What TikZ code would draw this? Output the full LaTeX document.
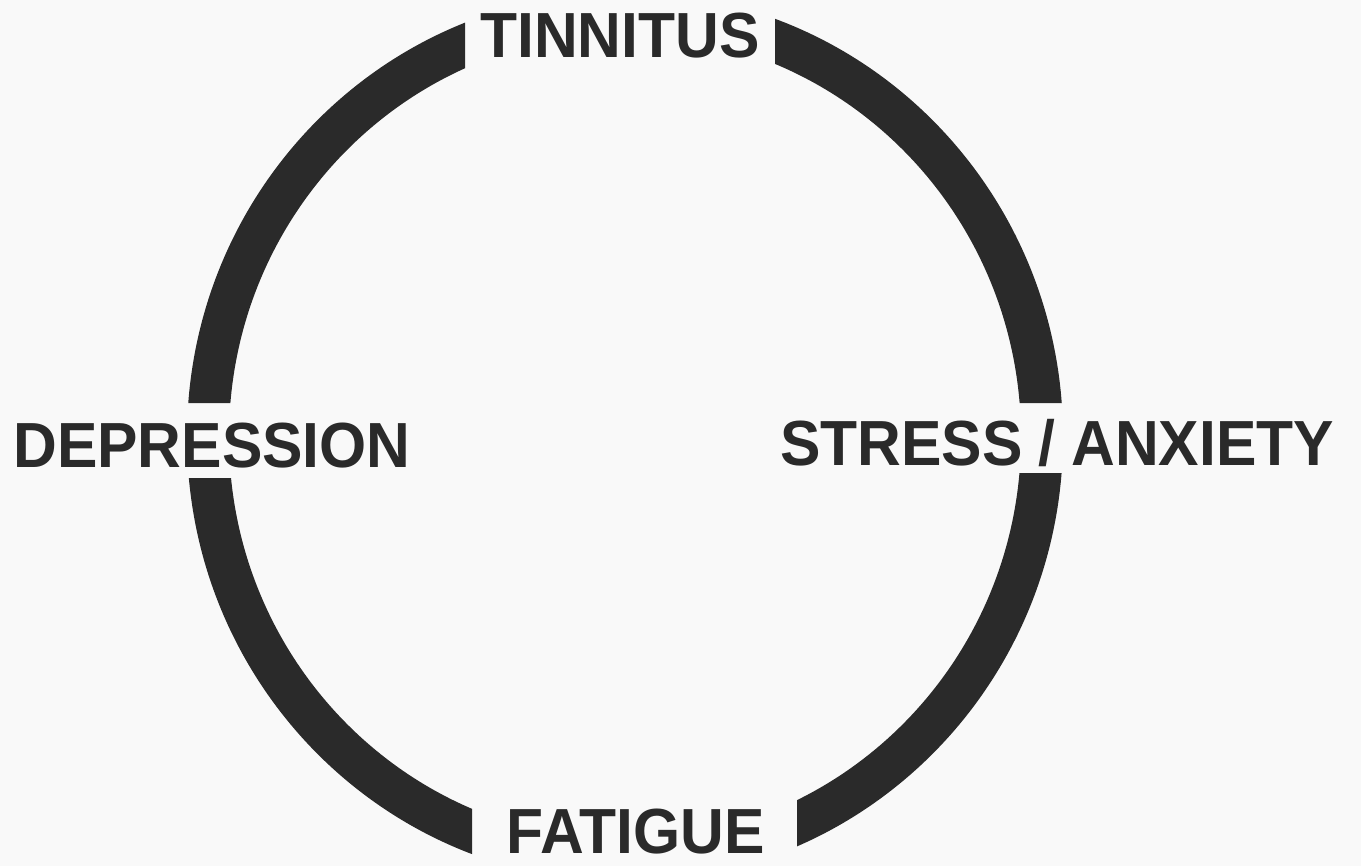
\documentclass[tikz,border=0pt]{standalone}
\usepackage{fontspec}
\newfontfamily\labelfont[FakeStretch=0.95]{Liberation Sans}
\definecolor{ink}{HTML}{2A2A2A}
\definecolor{paper}{HTML}{F9F9F9}
\tikzset{cyclelabel/.style={font=\labelfont\bfseries\fontsize{36.3}{36.3}\selectfont, text=ink, inner sep=0pt, anchor=base}}

\begin{document}
\begin{tikzpicture}[x=0.02cm, y=-0.02cm]
\fill[paper] (0,0) rectangle (1361,866);
\useasboundingbox (0,0) rectangle (1361,866);
\coordinate (C) at (625,437);
\coordinate (T) at (620,57);
\coordinate (S) at (1057,465);
\coordinate (F) at (636,853);
\coordinate (D) at (212,467);
% ring, with the four gaps cut out
\begin{scope}
\clip (-50,-50) -- (465,-50) -- (465,120) -- (775,120) -- (775,-50) -- (1411,-50)
  -- (1411,403) -- (950,403) -- (950,473) -- (1411,473) -- (1411,916)
  -- (797,916) -- (797,760) -- (472,760) -- (472,916) -- (-50,916)
  -- (-50,478) -- (300,478) -- (300,403) -- (-50,403) -- cycle;
\draw[ink, line width=0.84cm] (C) ellipse [x radius=417, y radius=424];
\end{scope}
\node (tinnitus) at (T) [cyclelabel] {TINNITUS};
\node (stress) at (S) [cyclelabel] {STRESS\hspace{0.25em}/\hspace{0.25em}ANXIETY};
\node (fatigue) at (F) [cyclelabel] {FATIGUE};
\node (depression) at (D) [cyclelabel] {DEPRESSION};
\end{tikzpicture}
\end{document}
